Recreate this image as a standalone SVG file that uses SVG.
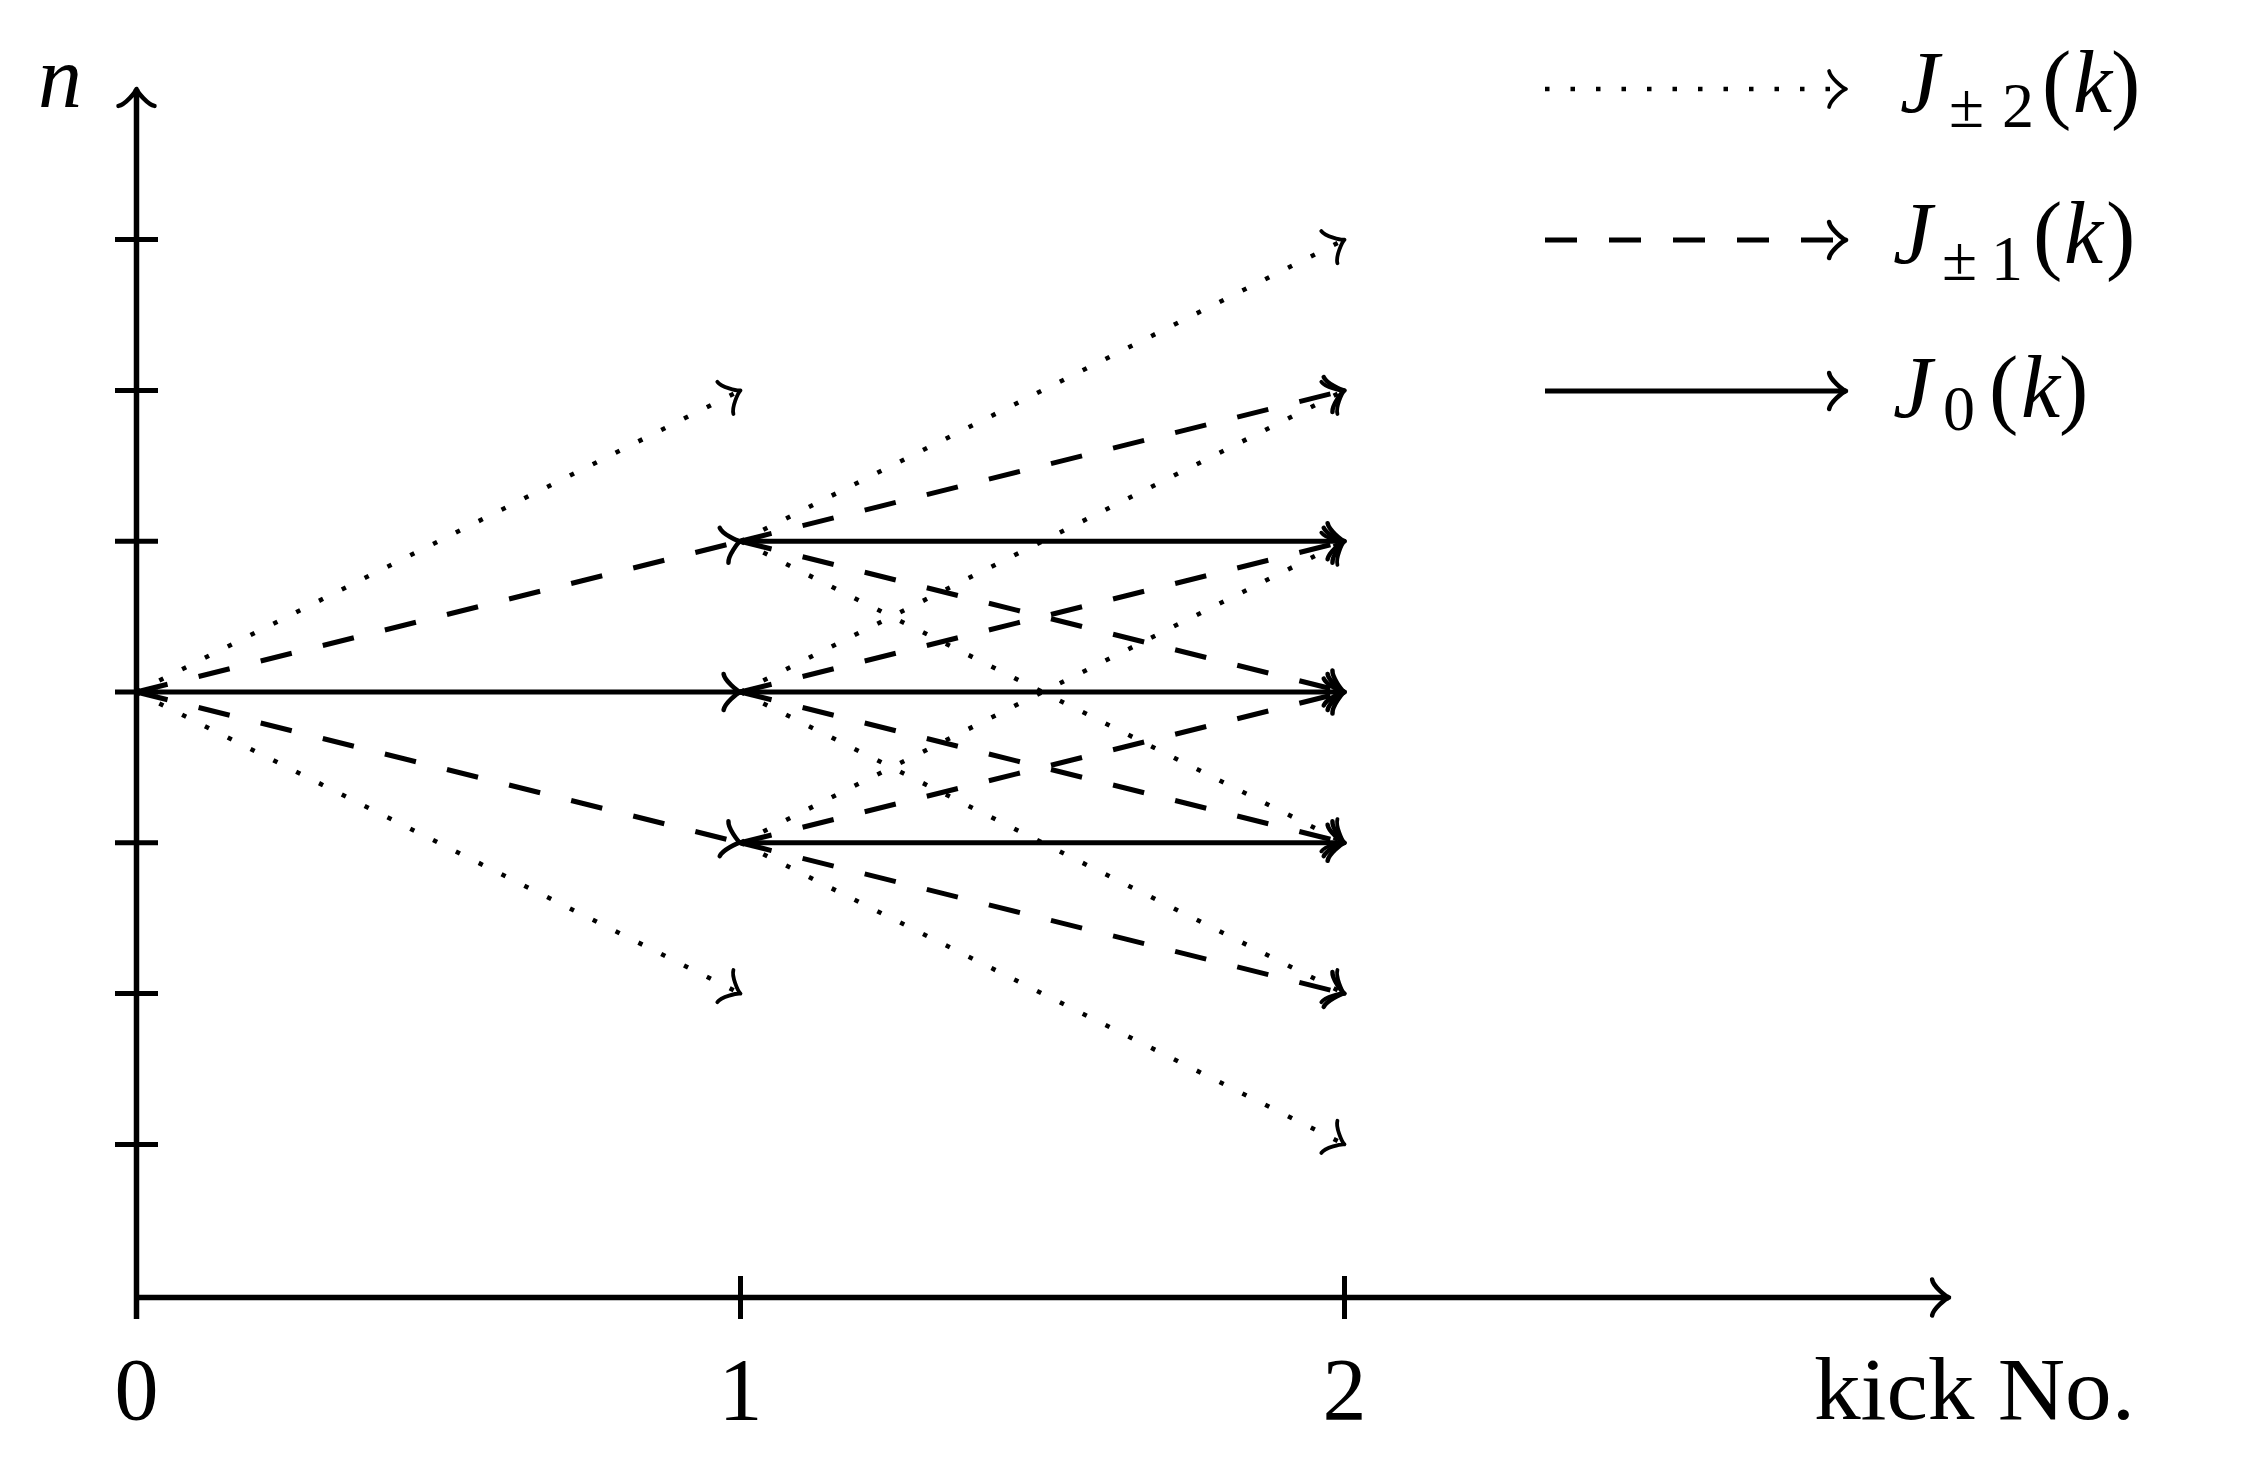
<svg xmlns="http://www.w3.org/2000/svg" width="2252" height="1464" viewBox="0 0 2252 1464">
<style>
.ax{stroke:#000;stroke-width:5.5;fill:none}
.tk{stroke:#000;stroke-width:5;fill:none}
.so{stroke:#000;stroke-width:5;fill:none;marker-end:url(#to)}
.da{stroke:#000;stroke-width:5;fill:none;stroke-dasharray:32 32;marker-end:url(#to)}
.dt{stroke:#000;stroke-width:4.5;fill:none;stroke-dasharray:4.5 21;marker-end:url(#tot)}
</style>
<defs>
<marker id="to" markerUnits="userSpaceOnUse" viewBox="-25 -25 30 50" markerWidth="30" markerHeight="50" refX="0" refY="0" orient="auto" overflow="visible">
<path d="M-16.9,-18 C-15.75,-11.25 -3.4,-1.1 0,0 C-3.4,1.1 -15.75,11.25 -16.9,18" fill="none" stroke="#000" stroke-width="4.5" stroke-linecap="round" stroke-linejoin="round"/>
</marker>
<marker id="tot" markerUnits="userSpaceOnUse" viewBox="-25 -25 30 50" markerWidth="30" markerHeight="50" refX="0" refY="0" orient="auto" overflow="visible">
<path d="M-16.9,-18 C-15.75,-11.25 -3.4,-1.1 0,0 C-3.4,1.1 -15.75,11.25 -16.9,18" fill="none" stroke="#000" stroke-width="3.8" stroke-linecap="round" stroke-linejoin="round"/>
</marker>
</defs>
<rect width="2252" height="1464" fill="#fff"/>
<g id="axes">
<line class="ax" x1="136.5" y1="1319" x2="136.5" y2="89" style="marker-end:url(#to)"/>
<line class="ax" x1="136.5" y1="1297.5" x2="1949" y2="1297.5" style="marker-end:url(#to)"/>
</g>
<g id="ticks">
<line class="tk" x1="115" y1="239.6" x2="158" y2="239.6"/>
<line class="tk" x1="115" y1="390.4" x2="158" y2="390.4"/>
<line class="tk" x1="115" y1="541.2" x2="158" y2="541.2"/>
<line class="tk" x1="115" y1="692" x2="158" y2="692"/>
<line class="tk" x1="115" y1="842.8" x2="158" y2="842.8"/>
<line class="tk" x1="115" y1="993.6" x2="158" y2="993.6"/>
<line class="tk" x1="115" y1="1144.4" x2="158" y2="1144.4"/>
<line class="tk" x1="136.5" y1="1276" x2="136.5" y2="1319"/>
<line class="tk" x1="740.5" y1="1276" x2="740.5" y2="1319"/>
<line class="tk" x1="1344.5" y1="1276" x2="1344.5" y2="1319"/>
</g>
<g id="axis-labels" font-family="Liberation Serif, DejaVu Serif, serif" font-size="88" fill="#000">
<text x="38" y="107" font-style="italic">n</text>
<text x="136.5" y="1419" text-anchor="middle">0</text>
<text x="740.5" y="1419" text-anchor="middle">1</text>
<text x="1344.5" y="1419" text-anchor="middle">2</text>
<text x="1814" y="1419" textLength="321" lengthAdjust="spacingAndGlyphs">kick No.</text>
</g>
<g id="connectors">
<line class="dt" x1="136.5" y1="692" x2="740.5" y2="390.4"/>
<line class="dt" x1="136.5" y1="692" x2="740.5" y2="993.6"/>
<line class="da" x1="136.5" y1="692" x2="740.5" y2="541.2"/>
<line class="da" x1="136.5" y1="692" x2="740.5" y2="842.8"/>
<line class="so" x1="136.5" y1="692" x2="740.5" y2="692"/>
<line class="dt" x1="740.5" y1="541.2" x2="1344.5" y2="239.6"/>
<line class="dt" x1="740.5" y1="541.2" x2="1344.5" y2="842.8"/>
<line class="da" x1="740.5" y1="541.2" x2="1344.5" y2="390.4"/>
<line class="da" x1="740.5" y1="541.2" x2="1344.5" y2="692"/>
<line class="so" x1="740.5" y1="541.2" x2="1344.5" y2="541.2"/>
<line class="dt" x1="740.5" y1="692" x2="1344.5" y2="390.4"/>
<line class="dt" x1="740.5" y1="692" x2="1344.5" y2="993.6"/>
<line class="da" x1="740.5" y1="692" x2="1344.5" y2="541.2"/>
<line class="da" x1="740.5" y1="692" x2="1344.5" y2="842.8"/>
<line class="so" x1="740.5" y1="692" x2="1344.5" y2="692"/>
<line class="dt" x1="740.5" y1="842.8" x2="1344.5" y2="541.2"/>
<line class="dt" x1="740.5" y1="842.8" x2="1344.5" y2="1144.4"/>
<line class="da" x1="740.5" y1="842.8" x2="1344.5" y2="692"/>
<line class="da" x1="740.5" y1="842.8" x2="1344.5" y2="993.6"/>
<line class="so" x1="740.5" y1="842.8" x2="1344.5" y2="842.8"/>
</g>
<g id="legend" font-family="Liberation Serif, DejaVu Serif, serif" font-size="88" fill="#000">
<g id="legend-j2">
<line class="dt" x1="1545" y1="89" x2="1846" y2="89"/>
<text y="112"><tspan font-style="italic" x="1900">J</tspan><tspan x="1949" y="127" font-size="64">±</tspan><tspan x="2002" y="127" font-size="64">2</tspan><tspan x="2042" y="112">(</tspan><tspan font-style="italic" x="2073">k</tspan><tspan x="2111">)</tspan></text>
</g>
<g id="legend-j1">
<line class="da" x1="1545" y1="240" x2="1846" y2="240"/>
<text y="263"><tspan font-style="italic" x="1893">J</tspan><tspan x="1942" y="280" font-size="64">±</tspan><tspan x="1991" y="280" font-size="64">1</tspan><tspan x="2033" y="263">(</tspan><tspan font-style="italic" x="2064">k</tspan><tspan x="2106">)</tspan></text>
</g>
<g id="legend-j0">
<line class="so" x1="1545" y1="391" x2="1846" y2="391"/>
<text y="417"><tspan font-style="italic" x="1893">J</tspan><tspan x="1943" y="430" font-size="64">0</tspan><tspan x="1989" y="417">(</tspan><tspan font-style="italic" x="2021">k</tspan><tspan x="2059">)</tspan></text>
</g>
</g>
</svg>
